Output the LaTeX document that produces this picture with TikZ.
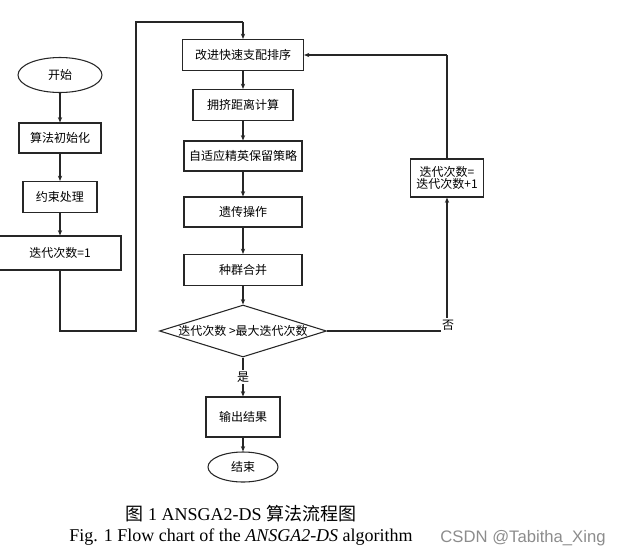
\documentclass[tikz,border=0pt]{standalone}
\usepackage{fontspec}
\setmainfont{Liberation Serif}
\newfontfamily\cjk{Noto Sans CJK SC}
\newfontfamily\wmfont{Liberation Sans}
\usetikzlibrary{shapes.geometric,arrows.meta}
\begin{document}
\begin{tikzpicture}[x=0.75pt,y=-0.75pt,
  box/.style={draw=black!85,line width=0.8pt,rectangle,inner sep=0pt,align=center,font=\cjk\fontsize{9}{11}\selectfont},
  ell/.style={draw=black!85,line width=0.8pt,ellipse,inner sep=0pt,font=\cjk\fontsize{9}{11}\selectfont},
  arr/.style={draw=black!85,line width=0.8pt,-{Stealth[length=4pt,width=3.2pt]}},
  ln/.style={draw=black!85,line width=0.8pt},
  lab/.style={fill=white,inner sep=1pt,font=\cjk\fontsize{9}{11}\selectfont}]
\useasboundingbox (0,0) rectangle (621,558);
% left column
\node[ell,minimum width=63pt,minimum height=26.25pt] (start) at (60,75) {开始};
\node[box,minimum width=61.5pt,minimum height=22.5pt] (init) at (60,138) {算法初始化};
\node[box,minimum width=55.5pt,minimum height=23.25pt] (cons) at (60,197) {约束处理};
\node[box,minimum width=91.5pt,minimum height=25.5pt] (iter1) at (60,253) {迭代次数=1};
% main column
\node[box,minimum width=90.75pt,minimum height=23.25pt] (sort) at (243,55) {改进快速支配排序};
\node[box,minimum width=75pt,minimum height=23.25pt] (crowd) at (243,105) {拥挤距离计算};
\node[box,minimum width=88.5pt,minimum height=22.5pt] (elite) at (243,156) {自适应精英保留策略};
\node[box,minimum width=88.5pt,minimum height=22.5pt] (gen) at (243,212) {遗传操作};
\node[box,minimum width=88.5pt,minimum height=23.25pt] (merge) at (243,270) {种群合并};
\node[draw=black!85,line width=0.8pt,diamond,aspect=3.2,inner sep=0pt,minimum width=125.25pt,minimum height=39pt] (dec) at (243,331) {};
\node[font=\cjk\fontsize{9}{11}\selectfont,inner sep=0pt] (dectext) at (243,331) {迭代次数 >最大迭代次数};
\node[box,minimum width=55.5pt,minimum height=30pt] (out) at (243,417) {输出结果};
\node[ell,minimum width=52.5pt,minimum height=22.5pt] (end) at (243,467) {结束};
% right
\node[box,minimum width=54.75pt,minimum height=28.5pt,font=\cjk\fontsize{9}{9.5}\selectfont] (incr) at (447,178) {迭代次数=\\迭代次数+1};
% coordinates
\coordinate (a1) at (60,331);
\coordinate (a2) at (136,331);
\coordinate (a3) at (136,22);
\coordinate (a4) at (243,22);
\coordinate (b1) at (447,331);
\coordinate (b2) at (447,55);
% connectors
\draw[arr] (start) -- (init);
\draw[arr] (init) -- (cons);
\draw[arr] (cons) -- (iter1);
\draw[ln] (iter1.south) -- (a1) -- (a2) -- (a3) -- (a4);
\draw[arr] (a4) -- (sort.north);
\draw[arr] (sort) -- (crowd);
\draw[arr] (crowd) -- (elite);
\draw[arr] (elite) -- (gen);
\draw[arr] (gen) -- (merge);
\draw[arr] (merge) -- (dec.north);
\draw[arr] (dec.south) -- (out.north);
\draw[arr] (out) -- (end);
\draw[ln] (dec.east) -- (b1);
\draw[arr] (b1) -- (incr.south);
\draw[ln] (incr.north) -- (b2);
\draw[arr] (b2) -- (sort.east);
\node[lab] (yes) at (243,377) {是};
\node[lab] (no) at (448,325) {否};
% caption
\node[font=\fontsize{13.5}{15}\selectfont,inner sep=0pt] (cap1) at (241,514) {{\cjk 图} 1 ANSGA2-DS {\cjk 算法流程图}};
\node[font=\fontsize{13.5}{15}\selectfont,inner sep=0pt] (cap2) at (241,537) {Fig. 1 Flow chart of the \textit{ANSGA2-DS} algorithm};
\node[font=\wmfont\fontsize{12.5}{14}\selectfont,text=black!45,inner sep=0pt] (wm) at (523,538) {CSDN @Tabitha\_Xing};
\end{tikzpicture}
\end{document}
